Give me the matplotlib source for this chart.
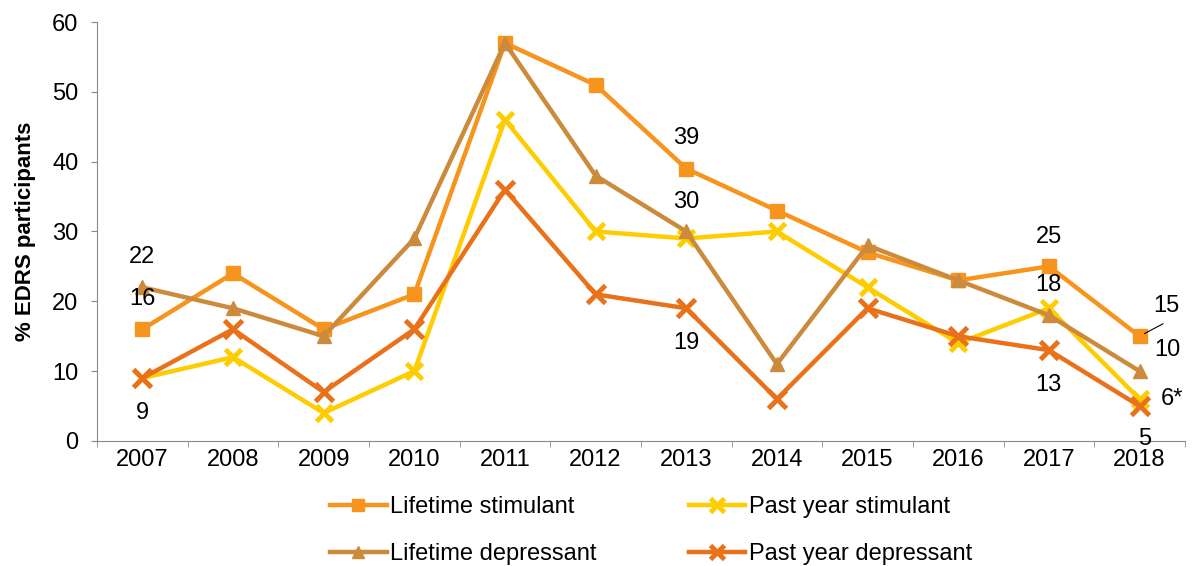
import matplotlib
matplotlib.use('Agg')
import matplotlib.pyplot as plt
import numpy as np

plt.rcParams['font.family'] = ['Liberation Sans', 'DejaVu Sans']

#data
years = ['2007', '2008', '2009', '2010', '2011', '2012', '2013', '2014', '2015', '2016', '2017', '2018']
lifetime_stim = [16, 24, 16, 21, 57, 51, 39, 33, 27, 23, 25, 15]
past_year_stim = [9, 12, 4, 10, 46, 30, 29, 30, 22, 14, 19, 6]
lifetime_dep = [22, 19, 15, 29, 57, 38, 30, 11, 28, 23, 18, 10]
past_year_dep = [9, 16, 7, 16, 36, 21, 19, 6, 19, 15, 13, 5]

#labels shown: (year index, text, value it sits near, offset in points)
labels = [
    (0, '22', 22, (0, 22)), (0, '16', 16, (0, 22)), (0, '9', 9, (0, -25)),
    (6, '39', 39, (0, 22)), (6, '30', 30, (0, 21.5)), (6, '19', 19, (0, -25)),
    (10, '25', 25, (0, 21)), (10, '18', 18, (0, 21.5)), (10, '13', 13, (0, -25)),
    (11, '10', 10, (20, 15)), (11, '6*', 6, (23, 0)), (11, '5', 5, (4, -24)),
]

fs = 17

fig = plt.figure(figsize=(11.92, 5.66), dpi=100)
ax = fig.add_axes([0.0814, 0.221, 0.9126, 0.740])

x = np.arange(len(years))
l1, = ax.plot(x, lifetime_stim, color='#F7941D', lw=3.2, marker='s', ms=10, label='Lifetime stimulant')
l2, = ax.plot(x, past_year_stim, color='#FFCC00', lw=3.2, marker='x', ms=12, mew=3.5, label='Past year stimulant')
l3, = ax.plot(x, lifetime_dep, color='#CC8B3C', lw=3.2, marker='^', ms=10, label='Lifetime depressant')
l4, = ax.plot(x, past_year_dep, color='#E8711A', lw=3.2, marker='x', ms=13, mew=3.5, label='Past year depressant')

for i, txt, v, off in labels:
    ax.annotate(txt, (x[i], v), xytext=off, textcoords='offset points',
                ha='center', va='center', fontsize=fs)

#15 label with leader line
ax.annotate('15', (x[11], lifetime_stim[11]), xytext=(19, 22), textcoords='offset points',
            ha='center', va='center', fontsize=fs)
ax.annotate('', (x[11], lifetime_stim[11]), xytext=(17, 9), textcoords='offset points',
            arrowprops=dict(arrowstyle='-', color='black', lw=0.8, shrinkA=0, shrinkB=4))

ax.set_xlim(-0.5, len(years) - 0.5)
ax.set_ylim(0, 60)
ax.set_yticks(range(0, 61, 10))
ax.set_xticks(x)
ax.set_xticklabels(years)
ax.set_xticks(np.arange(-0.5, len(years), 1), minor=True)
ax.tick_params(axis='x', which='major', length=0, labelsize=fs, pad=6)
ax.tick_params(axis='x', which='minor', length=4.3, color='#888888', direction='out')
ax.tick_params(axis='y', length=4.3, color='#888888', labelsize=fs, pad=9)
for s in ['top', 'right']:
    ax.spines[s].set_visible(False)
for s in ['left', 'bottom']:
    ax.spines[s].set_color('#888888')

ax.set_ylabel('% EDRS participants', fontsize=16, fontweight='bold')
ax.yaxis.set_label_coords(-0.056, 0.5)

#legend filled column by column, so order gives rows LS/PYS and LD/PYD
fig.legend([l1, l3, l2, l4],
           ['Lifetime stimulant', 'Lifetime depressant', 'Past year stimulant', 'Past year depressant'],
           loc='upper left', bbox_to_anchor=(330 / 1192, 1 - 496 / 566), ncol=2, frameon=False,
           fontsize=fs, handlelength=2.4, handletextpad=0.15, columnspacing=3.9,
           labelspacing=1.05, borderpad=0, borderaxespad=0, markerscale=0.8)

fig.savefig('out.png', dpi=100)
